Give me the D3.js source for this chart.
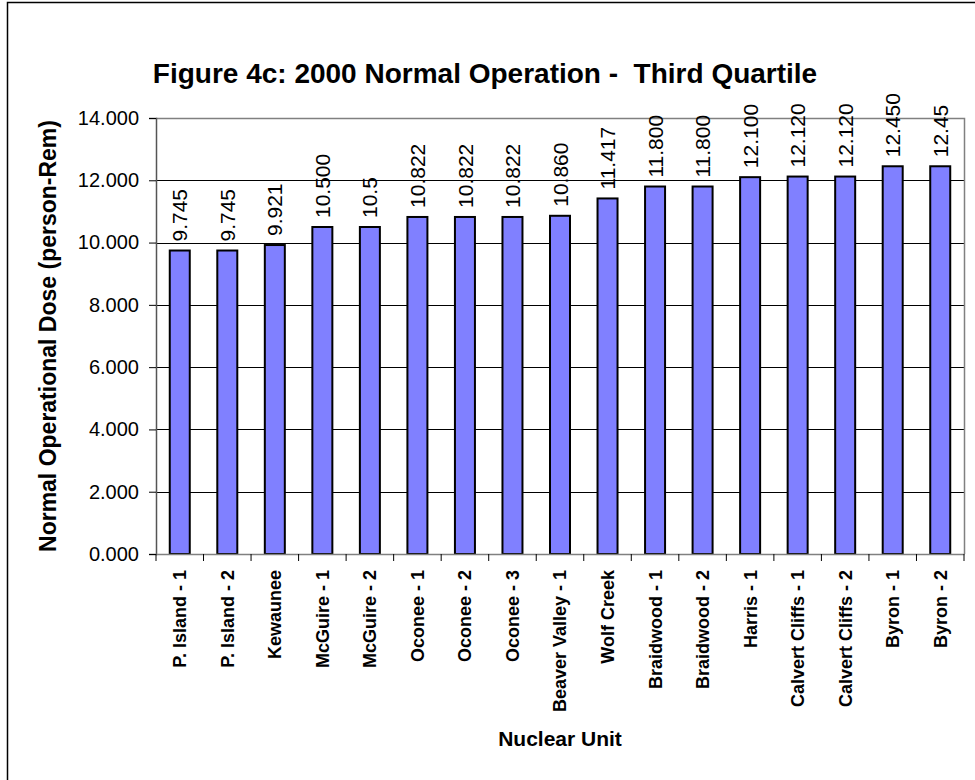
<!DOCTYPE html>
<html>
<head>
<meta charset="utf-8">
<script src="https://cdn.jsdelivr.net/npm/d3@7"></script>
<style>
  body { margin: 0; background: #fff; }
  svg { display: block; font-family: Arial, "Liberation Sans", sans-serif; }
</style>
</head>
<body>
<svg id="chart" width="975" height="780"></svg>
<script>
"use strict";

// chart data
var units = ["P. Island - 1", "P. Island - 2", "Kewaunee", "McGuire - 1", "McGuire - 2",
    "Oconee - 1", "Oconee - 2", "Oconee - 3", "Beaver Valley - 1", "Wolf Creek",
    "Braidwood - 1", "Braidwood - 2", "Harris - 1", "Calvert Cliffs - 1",
    "Calvert Cliffs - 2", "Byron - 1", "Byron - 2"];
var doses = [9.745, 9.745, 9.921, 10.5, 10.5, 10.822, 10.822, 10.822, 10.86, 11.417,
    11.8, 11.8, 12.1, 12.12, 12.12, 12.45, 12.45];
// labels as printed above the bars
var doseLabels = ["9.745", "9.745", "9.921", "10.500", "10.5", "10.822", "10.822", "10.822",
    "10.860", "11.417", "11.800", "11.800", "12.100", "12.120", "12.120", "12.450", "12.45"];
var yTicks = [0, 2, 4, 6, 8, 10, 12, 14];

var svg = d3.select("#chart");

// plot area
var plotL = 156, plotR = 964, plotT = 118, plotB = 554;

// outer frame (only top and left edges show)
svg.append("rect")
    .attr("x", 7.5).attr("y", 2.5)
    .attr("width", 1000).attr("height", 1000)
    .attr("fill", "none").attr("stroke", "#000").attr("stroke-width", 1.5);

var x = d3.scaleBand().domain(units).range([plotL, plotR]).paddingInner(0).paddingOuter(0);
var y = d3.scaleLinear().domain([0, 14]).range([plotB, plotT]);

// grid lines
svg.append("g").selectAll("line")
    .data(yTicks.filter(function(d) { return d > 0 && d < 14; }))
    .enter().append("line")
    .attr("x1", plotL).attr("x2", plotR)
    .attr("y1", function(d) { return Math.round(y(d)) + 0.5; })
    .attr("y2", function(d) { return Math.round(y(d)) + 0.5; })
    .attr("stroke", "#000").attr("stroke-width", 1);

// plot border top / right
svg.append("path")
    .attr("d", "M" + plotL + "," + (plotT + 0.5) + "H" + (plotR + 0.5) + "V" + plotB)
    .attr("fill", "none").attr("stroke", "#808080").attr("stroke-width", 1.5);

// bars
var barW = 20;
svg.append("g").selectAll("rect")
    .data(units)
    .enter().append("rect")
    .attr("x", function(d) { return x(d) + x.bandwidth() / 2 - barW / 2; })
    .attr("y", function(d, i) { return y(doses[i]); })
    .attr("width", barW)
    .attr("height", function(d, i) { return plotB - y(doses[i]); })
    .attr("fill", "#8080FF")
    .attr("stroke", "#000").attr("stroke-width", 2);

// value labels above bars
svg.append("g").selectAll("text")
    .data(units)
    .enter().append("text")
    .attr("transform", function(d, i) {
        return "translate(" + (x(d) + x.bandwidth() / 2) + "," + (y(doses[i]) - 9) + ") rotate(-90)";
    })
    .attr("dy", "0.36em")
    .attr("font-size", 21)
    .text(function(d, i) { return doseLabels[i]; });

// y axis
var yAxis = d3.axisLeft(y).tickValues(yTicks).tickSizeOuter(0).tickSize(7).tickPadding(10)
    .tickFormat(d3.format(".3f"));
var gy = svg.append("g").attr("transform", "translate(" + plotL + ",0)").call(yAxis);
gy.select(".domain").attr("stroke", "#555").attr("stroke-width", 1.5);
gy.selectAll(".tick line").attr("stroke", "#000");
gy.selectAll("text").attr("font-size", 20).attr("font-family", "Arial, 'Liberation Sans', sans-serif").attr("fill", "#000");

// x axis line and band ticks
svg.append("line")
    .attr("x1", plotL).attr("x2", plotR + 0.5)
    .attr("y1", plotB + 0.5).attr("y2", plotB + 0.5)
    .attr("stroke", "#808080").attr("stroke-width", 1.5);
svg.append("g").selectAll("line")
    .data(d3.range(units.length + 1))
    .enter().append("line")
    .attr("x1", function(i) { return plotL + i * x.bandwidth(); })
    .attr("x2", function(i) { return plotL + i * x.bandwidth(); })
    .attr("y1", plotB).attr("y2", plotB + 7)
    .attr("stroke", "#000").attr("stroke-width", 1);

// x labels
svg.append("g").selectAll("text")
    .data(units)
    .enter().append("text")
    .attr("transform", function(d) {
        return "translate(" + (x(d) + x.bandwidth() / 2) + "," + 570 + ") rotate(-90)";
    })
    .attr("dy", "0.36em")
    .attr("text-anchor", "end")
    .attr("font-size", 18).attr("font-weight", "bold")
    .text(function(d) { return d; });

// titles
svg.append("text")
    .attr("x", 485).attr("y", 83)
    .attr("text-anchor", "middle")
    .attr("font-size", 28).attr("font-weight", "bold")
    .style("white-space", "pre")
    .text("Figure 4c: 2000 Normal Operation -  Third Quartile");

svg.append("text")
    .attr("x", 560).attr("y", 746)
    .attr("text-anchor", "middle")
    .attr("font-size", 21).attr("font-weight", "bold")
    .text("Nuclear Unit");

svg.append("text")
    .attr("transform", "translate(56," + ((plotT + plotB) / 2) + ") rotate(-90)")
    .attr("text-anchor", "middle")
    .attr("font-size", 23).attr("font-weight", "bold")
    .text("Normal Operational Dose (person-Rem)");
</script>
</body>
</html>
